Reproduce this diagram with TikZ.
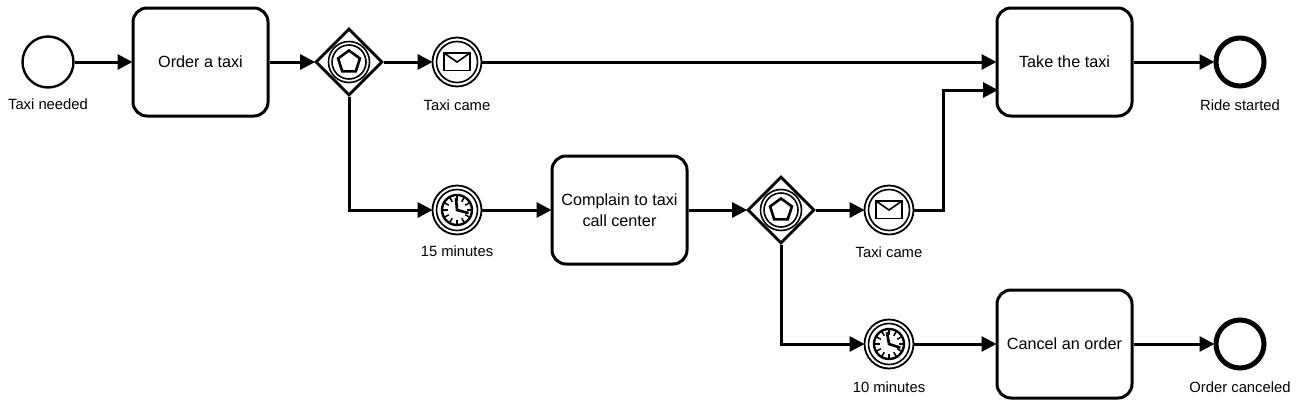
\documentclass[tikz,border=0pt]{standalone}
\usepackage{fontspec}
\setmainfont{Liberation Sans}
\usetikzlibrary{arrows.meta,shapes.geometric}
\tikzset{
  x=1pt,y=-1pt,
  flow/.style={line width=3pt,-{Triangle[length=15pt,width=15pt]},shorten >=-1pt},
  taskbox/.style={draw,line width=3pt,rounded corners=14pt,minimum width=135pt,minimum height=108pt,inner sep=0pt,align=center,font=\fontsize{16.2}{21}\selectfont},
  startev/.style={draw,circle,line width=2.4pt,minimum size=51pt,inner sep=0pt},
  endev/.style={draw,circle,line width=5pt,minimum size=48pt,inner sep=0pt},
  midev/.style={draw,circle,line width=1.8pt,minimum size=49pt,inner sep=0pt},
  gate/.style={draw,diamond,line width=2.8pt,minimum size=67pt,inner sep=0pt},
  lab/.style={font=\fontsize{14.8}{18}\selectfont,inner sep=0pt},
  thinl/.style={line width=1.6pt}
}
\newcommand{\innerring}[1]{\draw[thinl] (#1) circle (20.5);}
\newcommand{\mailicon}[1]{%
  \begin{scope}[shift={(#1)}]
    \draw[line width=1.6pt] (-13,-9) rectangle (13,8.5);
    \draw[line width=1.6pt] (-13,-9) -- (0,0) -- (13,-9);
  \end{scope}}
\newcommand{\clockicon}[3]{%
  \begin{scope}[shift={(#1)}]
    \draw[line width=2.4pt] (0,0) circle (15);
    \foreach \a in {0,30,...,330}{
      \draw[line width=1.5pt] (\a:9.5) -- (\a:14.5);
    }
    \draw[line width=2.6pt,line join=miter] (#2:12) -- (0,0) -- (#3:12);
  \end{scope}}
\newcommand{\gateicon}[1]{%
  \draw[thinl] (#1) circle (20.5);
  \draw[thinl] (#1) circle (17);
  \begin{scope}[shift={(#1)}]
    \draw[line width=2.6pt,line join=miter]
      (-90:11.5) -- (-18:11.5) -- (54:11.5) -- (126:11.5) -- (198:11.5) -- cycle;
  \end{scope}}
\begin{document}
\begin{tikzpicture}
\useasboundingbox (0,0) rectangle (1300,407);
% nodes
\node[startev] (start) at (48,62) {};
\node[taskbox] (order) at (200.5,62) {Order a taxi};
\node[gate] (gwa) at (349,62) {};
\node[midev] (msga) at (457,62) {};
\node[midev] (tima) at (457,210) {};
\node[taskbox] (complain) at (619.5,210) {Complain to taxi\\call center};
\node[gate] (gwb) at (781,210) {};
\node[midev] (msgb) at (889,210) {};
\node[midev] (timb) at (889,344) {};
\node[taskbox] (take) at (1064.5,62) {Take the taxi};
\node[taskbox] (cancel) at (1064.5,344) {Cancel an order};
\node[endev] (enda) at (1240,62) {};
\node[endev] (endb) at (1240,344) {};
% labels
\node[lab] (l1) at (48,104) {Taxi needed};
\node[lab] (l2) at (457,105) {Taxi came};
\node[lab] (l3) at (457,251) {15 minutes};
\node[lab] (l4) at (889,252) {Taxi came};
\node[lab] (l5) at (889,387) {10 minutes};
\node[lab] (l6) at (1240,105) {Ride started};
\node[lab] (l7) at (1240,387) {Order canceled};
% icons
\innerring{msga}\mailicon{msga}
\innerring{msgb}\mailicon{msgb}
\innerring{tima}\clockicon{tima}{-95}{15}
\innerring{timb}\clockicon{timb}{-100}{18}
\gateicon{gwa}
\gateicon{gwb}
% connectors
\coordinate (takein) at (997,90);
\coordinate (bend) at (943,90);
\draw[flow] (start) -- (order);
\draw[flow] (order) -- (gwa);
\draw[flow] (gwa) -- (msga);
\draw[flow] (msga) -- (take);
\draw[flow] (gwa.south) |- (tima);
\draw[flow] (tima) -- (complain);
\draw[flow] (complain) -- (gwb);
\draw[flow] (gwb) -- (msgb);
\draw[flow] (msgb) -| (bend) -- (takein);
\draw[flow] (gwb.south) |- (timb);
\draw[flow] (timb) -- (cancel);
\draw[flow] (take) -- (enda);
\draw[flow] (cancel) -- (endb);
\end{tikzpicture}
\end{document}
